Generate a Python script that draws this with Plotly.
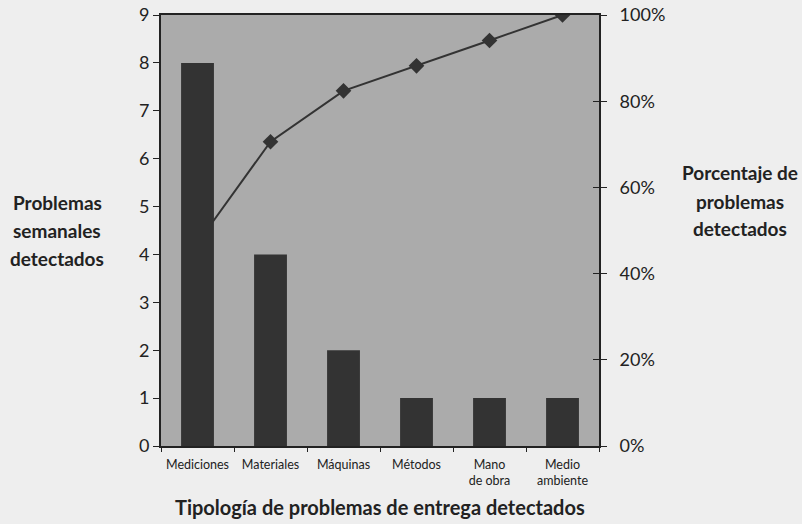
import plotly.graph_objects as go

categories = ["Mediciones", "Materiales", "Máquinas", "Métodos", "Mano<br>de obra", "Medio<br>ambiente"]
problems = [8, 4, 2, 1, 1, 1]
cumulative_pct = [47.1, 70.6, 82.4, 88.2, 94.1, 100.0]

left_ticks = list(range(0, 10))
right_ticks = [0, 20, 40, 60, 80, 100]
right_tick_text = ["0%", "20%", "40%", "60%", "80%", "100%"]

left_title = ["Problemas", "semanales", "detectados"]
right_title = ["Porcentaje de", "problemas", "detectados"]
x_title = "Tipología de problemas de entrega detectados"

FONT = "Lato"
DARK = "#333333"
INK = "#222222"

fig = go.Figure()

# cumulative line on the base (right) axis so bars draw above it
fig.add_trace(go.Scatter(
    x=categories, y=cumulative_pct, mode="lines+markers",
    line=dict(color=DARK, width=2),
    marker=dict(symbol="diamond", size=12, color=DARK),
    yaxis="y", showlegend=False, hoverinfo="skip",
))

fig.add_trace(go.Bar(
    x=categories, y=problems, marker=dict(color=DARK, line=dict(width=0)),
    yaxis="y2", showlegend=False, hoverinfo="skip",
))

annotations = []
for i, t in enumerate(left_title):
    annotations.append(dict(text=f"<b>{t}</b>", xref="paper", yref="paper",
                            x=-0.237, y=(446 - 202 - 28 * i) / 431, xanchor="center", yanchor="middle",
                            showarrow=False, font=dict(size=19, family=FONT, color=INK)))
for i, t in enumerate(right_title):
    annotations.append(dict(text=f"<b>{t}</b>", xref="paper", yref="paper",
                            x=1.323, y=(446 - 173 - 28 * i) / 431, xanchor="center", yanchor="middle",
                            showarrow=False, font=dict(size=19, family=FONT, color=INK)))
annotations.append(dict(text=f"<b>{x_title}</b>", xref="paper", yref="paper",
                        x=0.5, y=-(507 - 446) / 431, xanchor="center", yanchor="middle",
                        showarrow=False, font=dict(size=20, family=FONT, color=INK)))

fig.update_layout(
    width=802, height=524,
    margin=dict(l=161, r=203, t=15, b=78),
    paper_bgcolor="#eeeeee",
    plot_bgcolor="#ababab",
    bargap=0.55,
    font=dict(family=FONT, color=INK),
    xaxis=dict(
        type="category", showline=True, linecolor=INK, linewidth=2,
        mirror=True, ticks="outside", tickson="boundaries", ticklen=4,
        tickcolor=INK, tickfont=dict(size=12.5, family=FONT),
        ticklabelstandoff=6, automargin=False,
        showgrid=False, zeroline=False,
    ),
    yaxis=dict(
        side="right", range=[0, 100], tickvals=right_ticks, ticktext=right_tick_text,
        showline=True, linecolor=INK, linewidth=2, ticks="outside",
        ticklen=6, tickcolor=INK, tickfont=dict(size=18, family=FONT),
        ticklabelstandoff=9, automargin=False,
        showgrid=False, zeroline=False,
    ),
    yaxis2=dict(
        overlaying="y", side="left", range=[0, 9], tickvals=left_ticks,
        showline=True, linecolor=INK, linewidth=2, ticks="outside",
        ticklen=6, tickcolor=INK, tickfont=dict(size=18, family=FONT),
        automargin=False,
        showgrid=False, zeroline=False,
    ),
    # inner half of the right axis cross-ticks
    yaxis3=dict(
        overlaying="y", side="right", range=[0, 100], tickvals=right_ticks,
        showticklabels=False, ticks="inside", ticklen=6, tickcolor=INK,
        showline=False, automargin=False, showgrid=False, zeroline=False,
    ),
    annotations=annotations,
)

# dummy invisible trace to activate yaxis3
fig.add_trace(go.Scatter(x=[categories[0]], y=[0], yaxis="y3", mode="markers",
                         marker=dict(opacity=0), showlegend=False, hoverinfo="skip"))

fig.write_html("out.html", config={"displayModeBar": False},
               post_script="document.body.style.margin='0';document.body.style.overflow='hidden';")
